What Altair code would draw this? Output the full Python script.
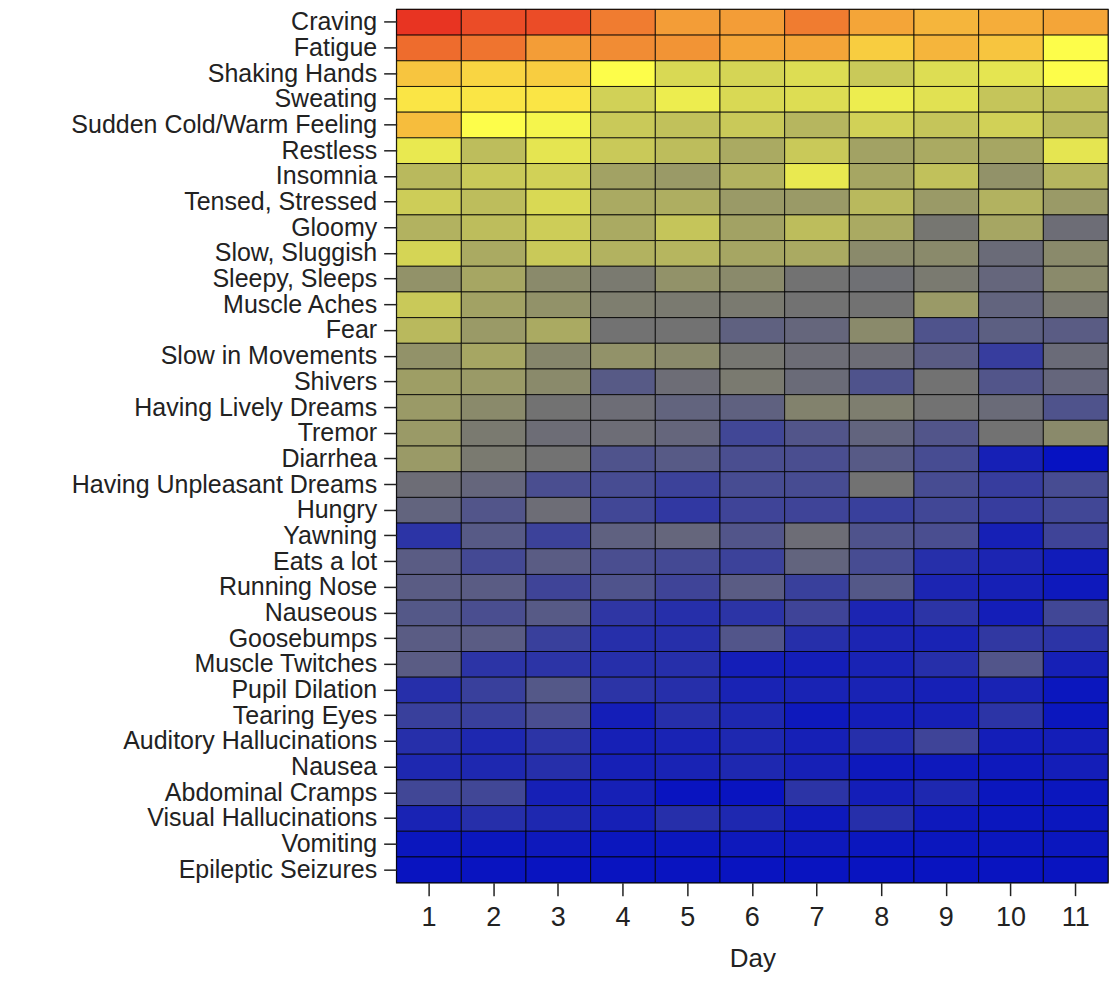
import altair as alt
import pandas as pd

symptoms = [
    "Craving", "Fatigue", "Shaking Hands", "Sweating", "Sudden Cold/Warm Feeling",
    "Restless", "Insomnia", "Tensed, Stressed", "Gloomy", "Slow, Sluggish",
    "Sleepy, Sleeps", "Muscle Aches", "Fear", "Slow in Movements", "Shivers",
    "Having Lively Dreams", "Tremor", "Diarrhea", "Having Unpleasant Dreams", "Hungry",
    "Yawning", "Eats a lot", "Running Nose", "Nauseous", "Goosebumps",
    "Muscle Twitches", "Pupil Dilation", "Tearing Eyes", "Auditory Hallucinations", "Nausea",
    "Abdominal Cramps", "Visual Hallucinations", "Vomiting", "Epileptic Seizures",
]
days = [1, 2, 3, 4, 5, 6, 7, 8, 9, 10, 11]

# estimated intensity per symptom for days 1..11 (0 = blue, 40 = grey, 75 = yellow, 100 = red)
craving = [100, 97, 97, 91, 87, 87, 91, 86, 84, 85, 86]
fatigue = [93, 92, 87, 89, 88, 86, 86, 81, 84, 82, 75]
shaking_hands = [82, 80, 81, 75, 66, 65, 67, 62, 67, 69, 75]
sweating = [78, 78, 78, 64, 71, 66, 67, 71, 68, 61, 60]
sudden_cold_warm = [83, 75, 73, 62, 60, 62, 57, 64, 61, 64, 58]
restless = [70, 59, 69, 62, 59, 54, 62, 52, 54, 53, 69]
insomnia = [58, 62, 64, 52, 50, 56, 70, 53, 60, 48, 57]
tensed = [63, 59, 66, 54, 55, 50, 50, 58, 50, 56, 50]
gloomy = [56, 59, 63, 54, 61, 52, 59, 54, 41, 53, 38]
slow_sluggish = [65, 54, 62, 56, 57, 53, 54, 46, 46, 37, 46]
sleepy = [48, 53, 46, 42, 48, 46, 40, 39, 42, 35, 46]
muscle_aches = [62, 52, 48, 43, 42, 42, 40, 40, 50, 34, 42]
fear = [58, 50, 54, 40, 40, 33, 35, 46, 27, 32, 31]
slow_movements = [48, 53, 45, 48, 46, 41, 38, 38, 31, 18, 37]
shivers = [51, 50, 46, 30, 38, 42, 37, 27, 40, 28, 35]
lively_dreams = [50, 46, 40, 38, 34, 33, 44, 43, 40, 37, 27]
tremor = [50, 42, 38, 38, 35, 22, 28, 34, 28, 40, 46]
diarrhea = [50, 42, 40, 27, 30, 25, 25, 30, 24, 6, 0]
unpleasant_dreams = [38, 35, 25, 24, 20, 24, 24, 40, 24, 18, 24]
hungry = [34, 28, 38, 22, 16, 21, 21, 19, 22, 18, 22]
yawning = [14, 30, 20, 33, 35, 28, 38, 27, 25, 6, 21]
eats_a_lot = [31, 23, 31, 25, 23, 20, 34, 24, 12, 8, 4]
running_nose = [31, 31, 21, 27, 21, 31, 19, 29, 8, 6, 3]
nauseous = [29, 25, 30, 15, 12, 14, 21, 8, 14, 5, 22]
goosebumps = [31, 31, 19, 12, 12, 28, 12, 8, 7, 16, 14]
muscle_twitches = [31, 14, 14, 12, 12, 5, 5, 7, 12, 28, 6]
pupil_dilation = [12, 19, 29, 14, 12, 7, 7, 7, 6, 7, 2]
tearing_eyes = [19, 19, 25, 5, 12, 9, 3, 5, 6, 14, 2]
auditory_halluc = [12, 9, 14, 6, 7, 9, 6, 12, 21, 5, 5]
nausea = [9, 9, 12, 6, 7, 9, 6, 3, 3, 3, 5]
abdominal_cramps = [22, 22, 6, 6, 1, 1, 14, 5, 9, 2, 2]
visual_halluc = [7, 12, 9, 6, 12, 9, 3, 12, 3, 2, 2]
vomiting = [2, 2, 3, 2, 2, 3, 3, 2, 2, 2, 2]
epileptic = [1, 1, 1, 1, 1, 1, 1, 1, 1, 1, 1]

rows = [
    craving, fatigue, shaking_hands, sweating, sudden_cold_warm, restless, insomnia,
    tensed, gloomy, slow_sluggish, sleepy, muscle_aches, fear, slow_movements, shivers,
    lively_dreams, tremor, diarrhea, unpleasant_dreams, hungry, yawning, eats_a_lot,
    running_nose, nauseous, goosebumps, muscle_twitches, pupil_dilation, tearing_eyes,
    auditory_halluc, nausea, abdominal_cramps, visual_halluc, vomiting, epileptic,
]

records = []
for name, vals in zip(symptoms, rows):
    for d, v in zip(days, vals):
        records.append({"Symptom": name, "Day": d, "Score": v})
df = pd.DataFrame(records)

color_stops = [0, 40, 75, 100]
color_range = ["#0612c2", "#727272", "#fdfd4a", "#e83422"]

font = "Liberation Sans"

chart = (
    alt.Chart(df)
    .mark_rect(stroke="#000000", strokeWidth=1, strokeOpacity=0.8)
    .encode(
        x=alt.X(
            "Day:O",
            sort=days,
            scale=alt.Scale(paddingInner=0, paddingOuter=0),
            axis=alt.Axis(
                title="Day",
                labelAngle=0,
                labelFontSize=27,
                labelFont=font,
                labelColor="#222222",
                labelPadding=9,
                tickSize=13,
                tickColor="#222222",
                tickWidth=1.5,
                domain=False,
                titleFontSize=26,
                titleFont=font,
                titleFontWeight="normal",
                titleColor="#222222",
                titlePadding=15,
            ),
        ),
        y=alt.Y(
            "Symptom:N",
            sort=symptoms,
            scale=alt.Scale(paddingInner=0, paddingOuter=0),
            axis=alt.Axis(
                title=None,
                labelFontSize=25,
                labelFont=font,
                labelColor="#222222",
                labelPadding=7,
                labelLimit=600,
                tickSize=13,
                tickColor="#222222",
                tickWidth=1.5,
                domain=False,
            ),
        ),
        color=alt.Color(
            "Score:Q",
            scale=alt.Scale(domain=color_stops, range=color_range, interpolate="rgb"),
            legend=None,
        ),
    )
    .properties(
        width=712,
        height=874,
        padding={"left": 62, "top": 0, "right": 0, "bottom": 0},
    )
    .configure_view(stroke="#111111", strokeWidth=1.5)
)

chart.save("out.html", embed_options={"renderer": "svg", "actions": False})
